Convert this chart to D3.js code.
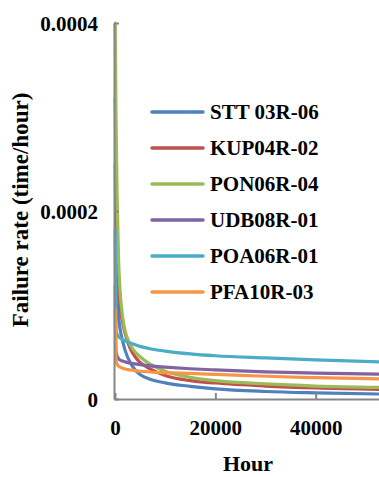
<!DOCTYPE html>
<html>
<head>
<meta charset="utf-8">
<script src="https://cdn.jsdelivr.net/npm/d3@7"></script>
<style>
  html, body { margin: 0; padding: 0; background: #fff; }
  svg { display: block; }
  text { font-family: "Liberation Serif", "Times New Roman", serif; font-weight: bold; fill: #000; }
</style>
</head>
<body>
<svg id="chart" width="379" height="477"></svg>
<script>
// ---- data ----
const hours = [50, 200, 400, 700, 1000, 1500, 2000, 3000, 4000, 5000, 7000, 10000, 15000, 20000, 30000, 40000, 56000];
const seriesNames = ["STT 03R-06", "KUP04R-02", "PON06R-04", "UDB08R-01", "POA06R-01", "PFA10R-03"];
const seriesColors = ["#4F81BD", "#C0504D", "#9BBB59", "#8064A2", "#4BACC6", "#F79646"];
const stt03r06 = [2.5e-4, 1.6e-4, 1.1e-4, 8.8e-5, 7.5e-5, 6.2e-5, 5.2e-5, 3.9e-5, 3.1e-5, 2.6e-5, 2.1e-5, 1.72e-5, 1.35e-5, 1.08e-5, 8.0e-6, 6.5e-6, 5.0e-6];
const kup04r02 = [3.2e-4, 2.4e-4, 1.8e-4, 1.3e-4, 1.0e-4, 8.2e-5, 7.0e-5, 5.4e-5, 4.5e-5, 3.9e-5, 3.2e-5, 2.5e-5, 1.95e-5, 1.7e-5, 1.38e-5, 1.17e-5, 1.0e-5];
const pon06r04 = [4.0e-4, 3.0e-4, 2.22e-4, 1.5e-4, 1.16e-4, 8.8e-5, 7.3e-5, 5.8e-5, 5.0e-5, 4.5e-5, 3.7e-5, 2.95e-5, 2.3e-5, 1.95e-5, 1.6e-5, 1.38e-5, 1.22e-5];
const udb08r01 = [1.2e-4, 5.0e-5, 4.6e-5, 4.3e-5, 4.15e-5, 4.03e-5, 3.95e-5, 3.83e-5, 3.73e-5, 3.65e-5, 3.53e-5, 3.4e-5, 3.22e-5, 3.09e-5, 2.88e-5, 2.75e-5, 2.63e-5];
const poa06r01 = [1.8e-4, 7.3e-5, 6.9e-5, 6.65e-5, 6.5e-5, 6.3e-5, 6.2e-5, 5.96e-5, 5.78e-5, 5.6e-5, 5.35e-5, 5.1e-5, 4.8e-5, 4.6e-5, 4.37e-5, 4.17e-5, 3.9e-5];
const pfa10r03 = [9.5e-5, 4.15e-5, 3.7e-5, 3.5e-5, 3.4e-5, 3.28e-5, 3.2e-5, 3.09e-5, 3.01e-5, 2.95e-5, 2.87e-5, 2.8e-5, 2.72e-5, 2.62e-5, 2.42e-5, 2.27e-5, 2.1e-5];
const seriesValues = [stt03r06, kup04r02, pon06r04, udb08r01, poa06r01, pfa10r03];
const xTicks = [0, 20000, 40000];
const yTicks = [0, 0.0002, 0.0004];
const yTickLabels = ["0", "0.0002", "0.0004"];

// ---- drawing ----
const svg = d3.select("#chart");
const x = d3.scaleLinear().domain([0, 60000]).range([115, 416]);
const y = d3.scaleLinear().domain([0, 0.0004]).range([399, 23]);
const axisColor = "#868686";

// lines
const line = d3.line()
  .x((d, i) => x(hours[i]))
  .y(d => y(d))
  .curve(d3.curveMonotoneX);

svg.append("g").selectAll("path")
  .data(seriesValues)
  .join("path")
  .attr("d", d => line(d))
  .attr("fill", "none")
  .attr("stroke", (d, i) => seriesColors[i])
  .attr("stroke-width", 3.2)
  .attr("stroke-linecap", "round")
  .attr("stroke-linejoin", "round");

// axes
const yAxis = d3.axisLeft(y)
  .tickValues(yTicks)
  .tickFormat((d, i) => yTickLabels[i])
  .tickSizeInner(-5)
  .tickSizeOuter(0)
  .tickPadding(16);
const gy = svg.append("g").attr("transform", "translate(114,0)").call(yAxis);
gy.select(".domain").attr("stroke", axisColor).attr("stroke-width", 2);
gy.selectAll(".tick line").attr("stroke", axisColor).attr("stroke-width", 2);
gy.selectAll(".tick text")
  .attr("font-size", 21)
  .attr("font-family", "Liberation Serif, Times New Roman, serif")
  .attr("font-weight", "bold")
  .attr("fill", "#000")
  .attr("dy", "0.35em");

const xAxis = d3.axisBottom(x)
  .tickValues(xTicks)
  .tickFormat(d3.format("d"))
  .tickSizeInner(-6)
  .tickSizeOuter(0)
  .tickPadding(21);
const gx = svg.append("g").attr("transform", "translate(0,399)").call(xAxis);
gx.select(".domain").attr("stroke", axisColor).attr("stroke-width", 2);
gx.selectAll(".tick line").attr("stroke", axisColor).attr("stroke-width", 2);
gx.selectAll(".tick text")
  .attr("font-size", 21)
  .attr("font-family", "Liberation Serif, Times New Roman, serif")
  .attr("font-weight", "bold")
  .attr("fill", "#000");

// axis titles
svg.append("text")
  .attr("x", 248)
  .attr("y", 471)
  .attr("text-anchor", "middle")
  .attr("font-size", 22)
  .text("Hour");

svg.append("text")
  .attr("transform", "translate(28,210) rotate(-90)")
  .attr("text-anchor", "middle")
  .attr("font-size", 23)
  .text("Failure rate (time/hour)");

// legend
const legend = svg.append("g").selectAll("g")
  .data(seriesNames)
  .join("g")
  .attr("transform", (d, i) => `translate(0,${112 + i * 36})`);
legend.append("line")
  .attr("x1", 152).attr("x2", 203)
  .attr("y1", 0).attr("y2", 0)
  .attr("stroke", (d, i) => seriesColors[i])
  .attr("stroke-width", 3.5)
  .attr("stroke-linecap", "round");
legend.append("text")
  .attr("x", 210)
  .attr("y", 0)
  .attr("dy", "0.35em")
  .attr("font-size", 21)
  .text(d => d);
</script>
</body>
</html>
